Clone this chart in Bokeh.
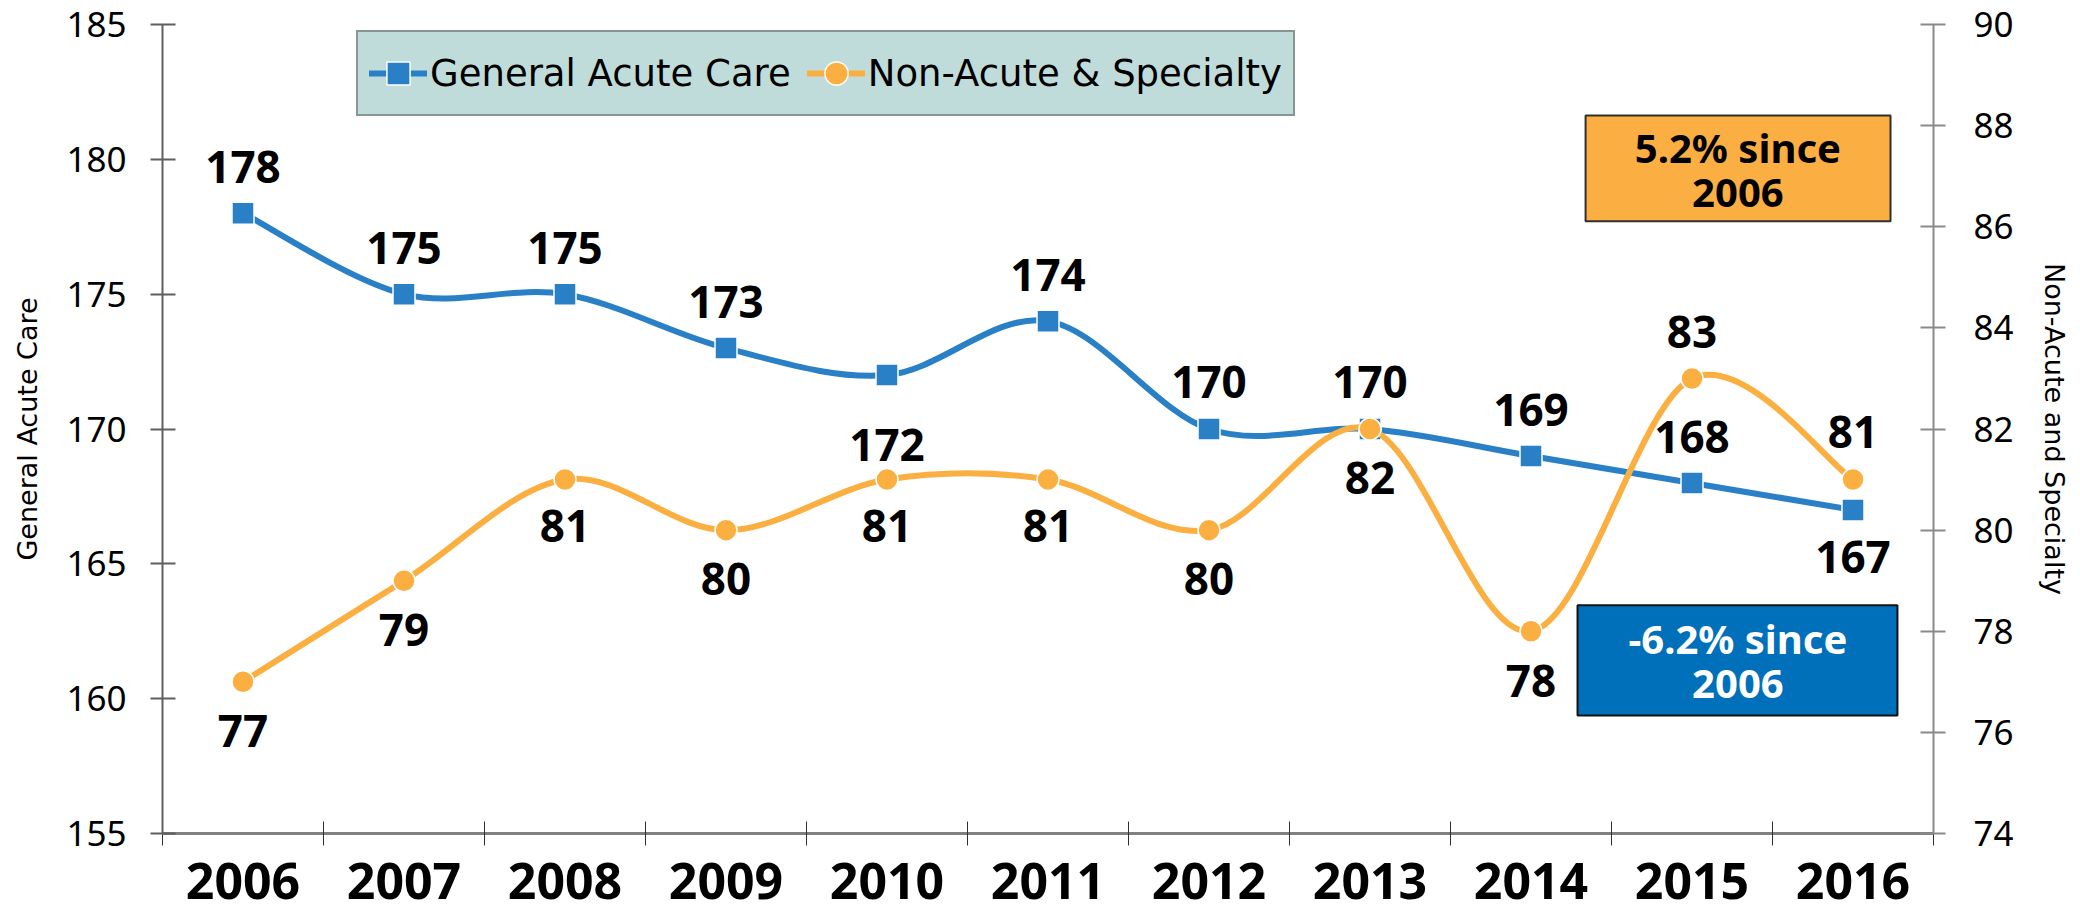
from bokeh.plotting import figure
from bokeh.models import Range1d, LinearAxis, FixedTicker, Legend, LegendItem
from bokeh.core.properties import value
from bokeh.embed import file_html
from bokeh.resources import INLINE

# ---------------- data ----------------
years = ["2006", "2007", "2008", "2009", "2010", "2011", "2012", "2013", "2014", "2015", "2016"]
general_acute = [178, 175, 175, 173, 172, 174, 170, 170, 169, 168, 167]
non_acute = [77, 79, 81, 80, 81, 81, 80, 82, 78, 83, 81]
left_ticks = [155, 160, 165, 170, 175, 180, 185]
right_ticks = [74, 76, 78, 80, 82, 84, 86, 88, 90]
orange_note = "5.2% since\n2006"
blue_note = "-6.2% since\n2006"

# label placement (pixels, screen: negative = above point)
blue_label_offsets = [-46, -46, -46, -46, 70, -46, -47, -47, -46, -46, 47]
orange_label_offsets = [49, 49, 46, 49, 46, 46, 49, 49, 50, -46, -48]

BLUE = "#2A80C6"
ORANGE = "#FBAF41"
BOX_BLUE = "#0070BA"
BOX_ORANGE = "#FBAE42"
AXIS_GRAY = "#5F5F5F"

x = list(range(len(years)))


def smooth_segments(xs, ys):
    """Bezier control points for an Excel-like smoothed line through the points."""
    n = len(xs)
    out = dict(x0=[], y0=[], x1=[], y1=[], cx0=[], cy0=[], cx1=[], cy1=[])
    for i in range(n - 1):
        pm = max(i - 1, 0)
        pn = min(i + 2, n - 1)
        out["x0"].append(xs[i]); out["y0"].append(ys[i])
        out["x1"].append(xs[i + 1]); out["y1"].append(ys[i + 1])
        out["cx0"].append(xs[i] + (xs[i + 1] - xs[pm]) / 6.0)
        out["cy0"].append(ys[i] + (ys[i + 1] - ys[pm]) / 6.0)
        out["cx1"].append(xs[i + 1] - (xs[pn] - xs[i]) / 6.0)
        out["cy1"].append(ys[i + 1] - (ys[pn] - ys[i]) / 6.0)
    return out


p = figure(width=2080, height=918, output_backend="svg", toolbar_location=None,
           x_range=Range1d(-0.5, len(years) - 0.5),
           y_range=Range1d(left_ticks[0], left_ticks[-1]),
           min_border_left=162, min_border_right=147, min_border_top=24, min_border_bottom=85)
p.extra_y_ranges = {"right": Range1d(right_ticks[0], right_ticks[-1])}
p.grid.visible = False
p.outline_line_color = None
p.background_fill_color = "white"
p.border_fill_color = "white"

# ---------------- axes ----------------
xa = p.xaxis[0]
xa.ticker = FixedTicker(ticks=x, minor_ticks=[i - 0.5 for i in range(len(years) + 1)])
xa.major_label_overrides = {i: yr for i, yr in enumerate(years)}
xa.major_tick_in = 0
xa.major_tick_out = 0
xa.minor_tick_in = 12
xa.minor_tick_out = 12
xa.minor_tick_line_color = "#303030"
xa.minor_tick_line_width = 1
xa.axis_line_color = "#808080"
xa.axis_line_width = 3
xa.major_label_text_font = "Noto Sans"
xa.major_label_text_font_style = "bold"
xa.major_label_text_font_size = "50px"
xa.major_label_text_color = "black"
xa.major_label_standoff = 17

ya = p.yaxis[0]
ya.ticker = FixedTicker(ticks=left_ticks)
ya.axis_label = "General Acute Care"
ya.axis_label_text_font = "DejaVu Sans"
ya.axis_label_text_font_style = "normal"
ya.axis_label_text_font_size = "27px"
ya.axis_label_text_color = "black"
ya.axis_label_standoff = 20
ya.major_label_text_font = "Noto Sans"
ya.major_label_text_font_size = "35px"
ya.major_label_text_color = "black"
ya.major_label_standoff = 24
ya.major_tick_in = 13
ya.major_tick_out = 12
ya.minor_tick_line_color = None
ya.axis_line_color = AXIS_GRAY
ya.axis_line_width = 2
ya.major_tick_line_color = AXIS_GRAY
ya.major_tick_line_width = 2

yr = LinearAxis(y_range_name="right", ticker=FixedTicker(ticks=right_ticks),
                axis_label="Non-Acute and Specialty")
yr.axis_label_text_font = "DejaVu Sans"
yr.axis_label_text_font_style = "normal"
yr.axis_label_text_font_size = "27px"
yr.axis_label_text_color = "black"
yr.axis_label_standoff = 22
yr.major_label_text_font = "Noto Sans"
yr.major_label_text_font_size = "35px"
yr.major_label_text_color = "black"
yr.major_label_standoff = 28
yr.major_tick_in = 13
yr.major_tick_out = 12
yr.minor_tick_line_color = None
yr.axis_line_color = "#8A8A8A"
yr.axis_line_width = 2
yr.major_tick_line_color = "#8A8A8A"
yr.major_tick_line_width = 2
p.add_layout(yr, "right")

# ---------------- annotation boxes ----------------
p.quad(left=[8.339], right=[10.233], top=[181.63], bottom=[177.70],
       fill_color=BOX_ORANGE, line_color="#2F2F2F", line_width=2)
p.quad(left=[8.289], right=[10.276], top=[163.46], bottom=[159.38],
       fill_color=BOX_BLUE, line_color="#111111", line_width=2)
p.text(x=[9.285], y=[179.62], text=[orange_note], text_align="center", text_baseline="middle",
       text_font=value("Noto Sans"), text_font_style="bold", text_font_size="40px",
       text_color="black", text_line_height=0.8)
p.text(x=[9.285], y=[161.40], text=[blue_note], text_align="center", text_baseline="middle",
       text_font=value("Noto Sans"), text_font_style="bold", text_font_size="40px",
       text_color="white", text_line_height=0.8)

# ---------------- series ----------------
bs = smooth_segments(x, general_acute)
blue_curve = p.bezier(**bs, line_color=BLUE, line_width=6, line_cap="round")
blue_pts = p.scatter(x, general_acute, marker="square", size=22, fill_color=BLUE,
                     line_color="white", line_width=1.5)

os_ = smooth_segments(x, non_acute)
orange_curve = p.bezier(**os_, line_color=ORANGE, line_width=6, line_cap="round", y_range_name="right")
orange_pts = p.scatter(x, non_acute, marker="circle", size=22, fill_color=ORANGE,
                       line_color="white", line_width=1.5, y_range_name="right")

# ---------------- data labels ----------------
p.text(x=x, y=general_acute, text=[str(v) for v in general_acute], y_offset=blue_label_offsets,
       text_align="center", text_baseline="middle", text_font=value("Noto Sans"),
       text_font_style="bold", text_font_size="44px", text_color="black")
p.text(x=x, y=non_acute, text=[str(v) for v in non_acute], y_offset=orange_label_offsets,
       text_align="center", text_baseline="middle", text_font=value("Noto Sans"),
       text_font_style="bold", text_font_size="44px", text_color="black", y_range_name="right")

# ---------------- legend ----------------
legend = Legend(items=[LegendItem(label="General Acute Care", renderers=[blue_curve, blue_pts]),
                       LegendItem(label="Non-Acute & Specialty", renderers=[orange_curve, orange_pts])],
                orientation="horizontal", location=(194, 717), margin=0,
                background_fill_color="#C0DCDA", background_fill_alpha=1.0,
                border_line_color="#4D4D4D", border_line_width=2,
                label_text_font="DejaVu Sans", label_text_font_size="37px", label_text_color="black",
                glyph_width=58, glyph_height=60, padding=11, spacing=16, label_standoff=3)
p.add_layout(legend)

open("out.html", "w").write(file_html(p, INLINE))
